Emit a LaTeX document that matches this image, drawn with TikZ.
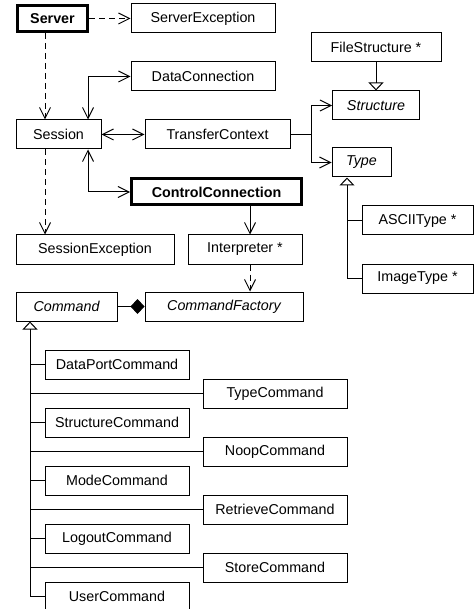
\documentclass[tikz,border=0pt]{standalone}
\usepackage{fontspec}
\setmainfont{Liberation Sans}
\usetikzlibrary{arrows.meta}

\begin{document}
\begin{tikzpicture}[x=1pt,y=-1pt,
  txt/.style={font=\fontsize{14.3}{17}\selectfont},
  box/.style={draw, rectangle, line width=1pt, minimum height=29pt, inner sep=0pt, txt},
  keybox/.style={box, line width=3pt, minimum height=26pt, font=\fontsize{14.3}{17}\selectfont\bfseries},
  abstract/.style={box, font=\fontsize{14.3}{17}\selectfont\itshape},
  link/.style={line width=1pt},
  nav/.style={link, -{Straight Barb[length=11pt,width=11pt]}},
  both/.style={link, {Straight Barb[length=11pt,width=11pt]}-{Straight Barb[length=11pt,width=11pt]}},
  dep/.style={nav, dash pattern=on 6pt off 4pt},
  inherit/.style={link, -{Triangle[open,length=8pt,width=15pt]}},
  owns/.style={link, -{Diamond[length=14pt,width=15pt]}},
]
\useasboundingbox (0,0) rectangle (474,609);

% helper columns for connector positions
\coordinate (x30) at (30,0);
\coordinate (x45) at (45,0);
\coordinate (x88) at (88,0);
\coordinate (x250) at (250,0);
\coordinate (x347) at (347,0);
\coordinate (fork) at (311,134.5);

% classes
\node[keybox, minimum width=70pt] (server) at (52.5,18.5) {Server};
\node[box, minimum width=144pt] (srvex) at (203,18.5) {ServerException};
\node[box, minimum width=144pt] (dc) at (203,76.5) {DataConnection};
\node[box, minimum width=85pt] (session) at (58.5,134.5) {Session};
\node[box, minimum width=145pt] (tc) at (217.5,134.5) {TransferContext};
\node[box, minimum width=130pt] (fs) at (376,47.5) {FileStructure *};
\node[abstract, minimum width=87pt] (structure) at (376,105.5) {Structure};
\node[abstract, minimum width=59pt] (type) at (361.5,162.5) {Type};
\node[keybox, minimum width=170pt] (cc) at (216.5,192) {ControlConnection};
\node[box, minimum width=158pt] (sesex) at (95,249.5) {SessionException};
\node[box, minimum width=114pt] (interp) at (245,249.5) {Interpreter *};
\node[box, minimum width=111pt] (ascii) at (417.5,220.5) {ASCIIType *};
\node[box, minimum width=111pt] (imgtype) at (417.5,278.5) {ImageType *};
\node[abstract, minimum width=101pt] (command) at (66.5,306.5) {Command};
\node[abstract, minimum width=158pt] (cf) at (224,306.5) {CommandFactory};

% command subclasses
\node[box, minimum width=144pt] (dpc) at (117,364.5) {DataPortCommand};
\node[box, minimum width=144pt] (typec) at (275,393.5) {TypeCommand};
\node[box, minimum width=144pt] (stc) at (117,422.5) {StructureCommand};
\node[box, minimum width=144pt] (noop) at (275,451.5) {NoopCommand};
\node[box, minimum width=144pt] (mode) at (117,480.5) {ModeCommand};
\node[box, minimum width=144pt] (retr) at (275,509.5) {RetrieveCommand};
\node[box, minimum width=144pt] (logout) at (117,538.5) {LogoutCommand};
\node[box, minimum width=144pt] (store) at (275,567.5) {StoreCommand};
\node[box, minimum width=144pt] (user) at (117,596.5) {UserCommand};

% dependencies
\draw[dep] (server) -- (srvex);
\draw[dep] (server.south -| x45) -- (session.north -| x45);
\draw[dep] (session.south -| x45) -- (sesex.north -| x45);
\draw[dep] (interp.south -| x250) -- (cf.north -| x250);

% associations
\draw[both] (session.north -| x88) |- (dc.west);
\draw[both] (session.south -| x88) |- (cc.west);
\draw[both] (session) -- (tc);
\draw[link] (tc.east) -- (fork);
\draw[nav] (fork) |- (structure.west);
\draw[nav] (fork) |- (type.west);
\draw[nav] (cc.south -| x250) -- (interp.north -| x250);
\draw[owns] (command) -- (cf);

% generalisations
\draw[inherit] (fs.south) -- (structure.north);
\draw[inherit] (imgtype.west) -| (type.south -| x347);
\draw[link] (ascii.west) -- (ascii.west -| x347);
\draw[inherit] (user.west) -| (command.south -| x30);
\foreach \n in {dpc,typec,stc,noop,mode,retr,logout,store}
  \draw[link] (\n.west) -- (\n.west -| x30);
\end{tikzpicture}
\end{document}
